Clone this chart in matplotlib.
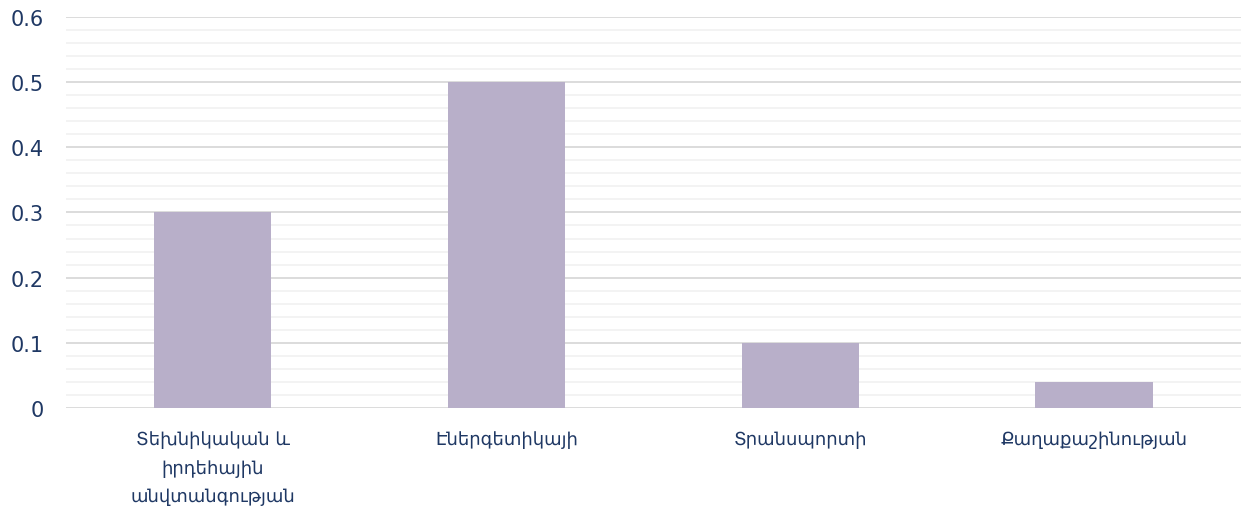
import numpy as np
import matplotlib.pyplot as plt
from matplotlib.ticker import MultipleLocator

# Data
categories = [
    "Տեխնիկական և\nիրդեհային\nանվտանգության",
    "Էներգետիկայի",
    "Տրանսպորտի",
    "Քաղաքաշինության",
]
values = [0.3, 0.5, 0.1, 0.04]

bar_color = "#B8AFC9"
text_color = "#1F3864"

plt.rcParams['font.family'] = ['DejaVu Sans']

fig = plt.figure(figsize=(12.41, 5.10), dpi=100)
ax = fig.add_axes([0.053, 0.198, 0.947, 0.767])

x = np.arange(len(categories))
ax.bar(x, values, width=0.4, color=bar_color, zorder=3)

ax.set_xlim(-0.5, len(categories) - 0.5)
ax.set_ylim(0, 0.6)
ax.yaxis.set_major_locator(MultipleLocator(0.1))
ax.yaxis.set_minor_locator(MultipleLocator(0.02))
ax.yaxis.set_major_formatter(lambda v, pos: "0" if abs(v) < 1e-9 else f"{v:.1f}")

ax.grid(axis="y", which="major", color="#D9D9D9", linewidth=1.3, zorder=0)
ax.grid(axis="y", which="minor", color="#F2F2F2", linewidth=1.3, zorder=0)

for s in ax.spines.values():
    s.set_visible(False)

ax.set_xticks(x)
ax.set_xticklabels(categories, fontsize=13, color=text_color, linespacing=1.75)
ax.tick_params(axis="x", length=0, pad=16)
ax.tick_params(axis="y", which="both", length=0, labelsize=15, labelcolor=text_color, pad=16)

fig.savefig("out.png", dpi=100)
